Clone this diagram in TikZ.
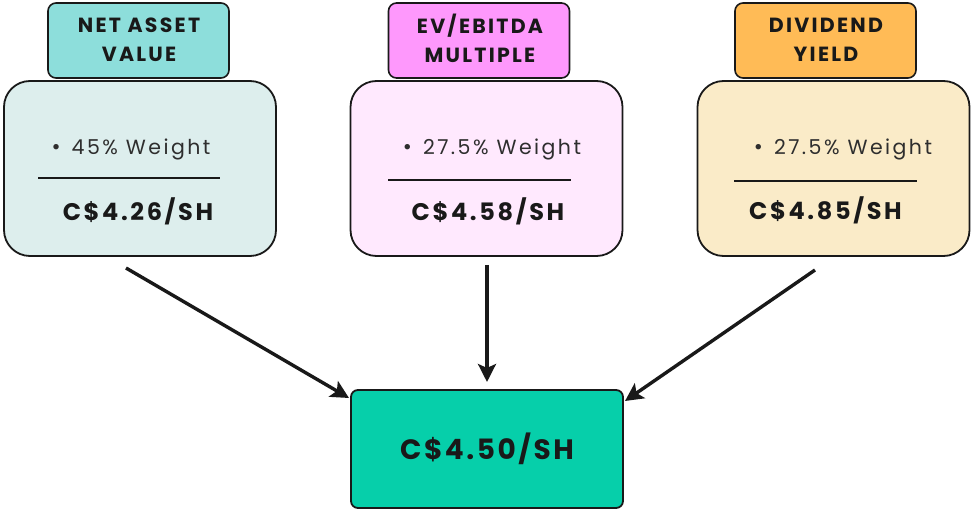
\documentclass[tikz,border=0pt]{standalone}
\usepackage{fontspec}
\setmainfont{Poppins}
\newfontfamily\hdrfont{Poppins}[LetterSpace=11]
\newfontfamily\pricefont{Poppins}[LetterSpace=11]
\newfontfamily\finfont{Poppins}[LetterSpace=9]
\newfontfamily\wfont{Poppins}[LetterSpace=12]
\newfontfamily\bulfont{Poppins}
\usetikzlibrary{arrows.meta}
\definecolor{hdrA}{HTML}{8DDEDB}
\definecolor{boxA}{HTML}{DDEEED}
\definecolor{hdrB}{HTML}{FE98FC}
\definecolor{boxB}{HTML}{FFE9FE}
\definecolor{hdrC}{HTML}{FFBB56}
\definecolor{boxC}{HTML}{FAEBC8}
\definecolor{finalc}{HTML}{06CFAA}
\definecolor{wtext}{HTML}{2E2E2E}
\newcommand{\mybul}{{\bulfont\fontsize{22}{22}\selectfont\textbullet}\hspace{11pt}}
\tikzset{
  x=1pt, y=-1pt,
  hdrbox/.style={draw=black!90, line width=1.6pt, rounded corners=8pt, minimum width=181pt, minimum height=75pt, inner sep=0pt},
  mainbox/.style={draw=black!90, line width=1.8pt, rounded corners=26pt, minimum width=272pt, minimum height=175pt, inner sep=0pt},
  hdrtext/.style={font=\hdrfont\bfseries\fontsize{20.5}{29}\selectfont, align=center, text=black!90},
  wtxt/.style={font=\wfont\fontsize{20.5}{22}\selectfont, text=wtext, inner sep=0pt},
  pricetxt/.style={font=\pricefont\bfseries\fontsize{24}{28}\selectfont, text=black!90, inner sep=0pt},
  sepline/.style={line width=1.4pt, draw=black!90},
  flow/.style={line width=3.4pt, draw=black!90, -{Stealth[length=18pt,width=18pt,inset=4pt]}}
}
\begin{document}
\begin{tikzpicture}
\useasboundingbox (0,0) rectangle (972,510);
% boxes
\node[mainbox, fill=boxA] (boxA) at (140,168.5) {};
\node[mainbox, fill=boxB] (boxB) at (486.5,168.5) {};
\node[mainbox, fill=boxC] (boxC) at (833.5,168.5) {};
\node[hdrbox, fill=hdrA] (hA) at (138.5,40.5) {};
\node[hdrbox, fill=hdrB] (hB) at (479,40.5) {};
\node[hdrbox, fill=hdrC] (hC) at (825.5,40.5) {};
\node[hdrtext] (hAt) at (139,40) {NET ASSET\\VALUE};
\node[hdrtext] (hBt) at (480,40) {EV/EBITDA\\MULTIPLE\vphantom{/}};
\node[hdrtext] (hCt) at (826,40) {DIVIDEND\\YIELD};
% weights
\node[wtxt] (wA) at (131,149) {\mybul 45\% Weight};
\node[wtxt] (wB) at (492,149) {\mybul 27.5\% Weight};
\node[wtxt] (wC) at (843,149) {\mybul 27.5\% Weight};
% separators
\coordinate (lA1) at (38,178); \coordinate (lA2) at (220,178);
\coordinate (lB1) at (388,180); \coordinate (lB2) at (571,180);
\coordinate (lC1) at (734,181); \coordinate (lC2) at (917,181);
\draw[sepline] (lA1) -- (lA2);
\draw[sepline] (lB1) -- (lB2);
\draw[sepline] (lC1) -- (lC2);
% prices
\node[pricetxt] (pA) at (138,211) {C\$4.26/SH};
\node[pricetxt] (pB) at (488,211) {C\$4.58/SH};
\node[pricetxt] (pC) at (825.5,210) {C\$4.85/SH};
% final
\node[draw=black!90, line width=1.8pt, rounded corners=7pt, fill=finalc, minimum width=272pt, minimum height=118pt, inner sep=0pt] (fin) at (487,449) {};
\node[font=\finfont\bfseries\fontsize{28}{32}\selectfont, text=black!90, inner sep=0pt] (fint) at (487,449) {C\$4.50/SH};
% arrows
\coordinate (sA) at (126,268); \coordinate (eA) at (349,398);
\coordinate (sB) at (487,265); \coordinate (eB) at (487,382);
\coordinate (sC) at (815,270); \coordinate (eC) at (625,401);
\draw[flow] (sA) -- (eA);
\draw[flow] (sB) -- (eB);
\draw[flow] (sC) -- (eC);
\end{tikzpicture}
\end{document}
